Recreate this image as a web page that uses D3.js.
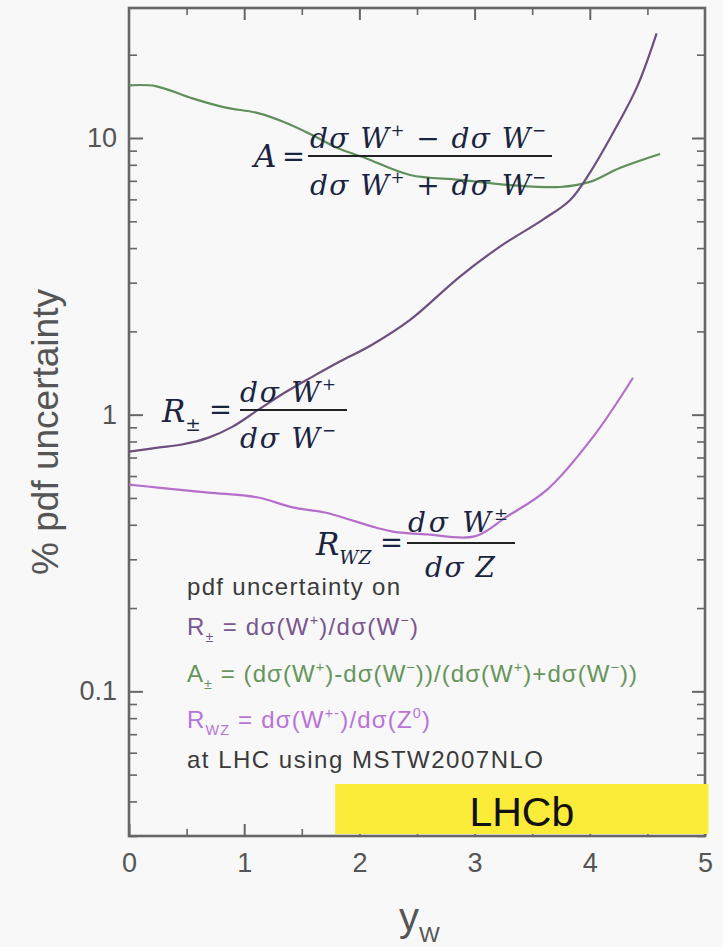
<!DOCTYPE html>
<html>
<head>
<meta charset="utf-8">
<script src="https://cdn.jsdelivr.net/npm/d3@7"></script>
<style>
  html, body { margin: 0; padding: 0; background: #f8f8f8; }
  svg { display: block; }
</style>
</head>
<body>
<div id="chart"></div>
<script>
// % pdf uncertainty vs W rapidity
var ywAsym = [0, 0.23, 0.55, 0.83, 1.12, 1.35, 1.59, 1.81, 2.05, 2.44, 2.87, 3.31, 3.74, 4.0, 4.26, 4.61];
var pdfAsym = [15.5, 15.4, 13.9, 12.9, 12.3, 11.4, 10.25, 9.2, 8.47, 7.35, 7.06, 6.76, 6.65, 6.94, 7.79, 8.75];

var ywRpm = [0, 0.25, 0.46, 0.69, 0.90, 1.12, 1.35, 1.59, 1.81, 2.11, 2.44, 2.87, 3.22, 3.59, 3.83, 4.0, 4.2, 4.41, 4.58];
var pdfRpm = [0.735, 0.76, 0.78, 0.826, 0.905, 1.04, 1.20, 1.37, 1.54, 1.79, 2.20, 3.15, 4.05, 5.06, 5.97, 7.48, 10.4, 15.3, 23.9];

var ywRwz = [0, 0.25, 0.69, 1.12, 1.42, 1.70, 2.14, 2.29, 2.59, 3.0, 3.28, 3.63, 4.03, 4.375];
var pdfRwz = [0.559, 0.545, 0.523, 0.502, 0.462, 0.443, 0.391, 0.378, 0.369, 0.363, 0.428, 0.536, 0.833, 1.36];

var xMajor = [0, 1, 2, 3, 4, 5];
var xMinor = [0.5, 1.5, 2.5, 3.5, 4.5];
var yMajor = [0.1, 1, 10];
var yMinor = [0.03, 0.04, 0.05, 0.06, 0.07, 0.08, 0.09,
              0.2, 0.3, 0.4, 0.5, 0.6, 0.7, 0.8, 0.9,
              2, 3, 4, 5, 6, 7, 8, 9, 20];
var lhcbBand = [1.79, 5.03];

var width = 723, height = 947;
var plotL = 129, plotR = 705, plotT = 8, plotB = 836;

var svg = d3.select("#chart").append("svg")
  .attr("width", width)
  .attr("height", height)
  .style("background", "#f8f8f8");

var x = d3.scaleLinear().domain([0, 5]).range([plotL, plotR]);
var y = d3.scaleLog().domain([0.03, 29.5]).range([plotB, plotT]);

var axisColor = "#666";
var labelColor = "#555";
var sans = "'Liberation Sans', Arial, sans-serif";

function styleAxis(g, w) {
  g.select(".domain").remove();
  g.selectAll(".tick line").attr("stroke", axisColor).attr("stroke-width", w);
  g.selectAll(".tick text")
    .attr("fill", labelColor)
    .style("font-family", sans)
    .style("font-size", "27px");
}

// ticks, all pointing inward
svg.append("g").attr("transform", "translate(" + plotL + ",0)")
  .call(d3.axisLeft(y).tickValues(yMinor).tickSize(-8).tickFormat(""))
  .call(styleAxis, 1.6);
svg.append("g").attr("transform", "translate(" + plotL + ",0)")
  .call(d3.axisLeft(y).tickValues(yMajor).tickSize(-14).tickPadding(12).tickFormat(d3.format("~g")))
  .call(styleAxis, 2);
svg.append("g").attr("transform", "translate(" + plotR + ",0)")
  .call(d3.axisRight(y).tickValues(yMinor).tickSize(-8).tickFormat(""))
  .call(styleAxis, 1.6);
svg.append("g").attr("transform", "translate(" + plotR + ",0)")
  .call(d3.axisRight(y).tickValues(yMajor).tickSize(-13).tickFormat(""))
  .call(styleAxis, 2);
svg.append("g").attr("transform", "translate(0," + plotB + ")")
  .call(d3.axisBottom(x).tickValues(xMinor).tickSize(-7).tickFormat(""))
  .call(styleAxis, 1.6);
svg.append("g").attr("transform", "translate(0," + plotB + ")")
  .call(d3.axisBottom(x).tickValues(xMajor).tickSize(-12).tickPadding(17).tickFormat(d3.format("d")))
  .call(styleAxis, 2);
svg.append("g").attr("transform", "translate(0," + plotT + ")")
  .call(d3.axisTop(x).tickValues(xMinor).tickSize(-7).tickFormat(""))
  .call(styleAxis, 1.6);
svg.append("g").attr("transform", "translate(0," + plotT + ")")
  .call(d3.axisTop(x).tickValues(xMajor.slice(1, 5)).tickSize(-12).tickFormat(""))
  .call(styleAxis, 2);

svg.append("rect")
  .attr("x", plotL).attr("y", plotT)
  .attr("width", plotR - plotL).attr("height", plotB - plotT)
  .attr("fill", "none")
  .attr("stroke", axisColor)
  .attr("stroke-width", 2.6);

// LHCb acceptance box
svg.append("rect")
  .attr("x", x(lhcbBand[0]))
  .attr("y", plotB - 52)
  .attr("width", x(lhcbBand[1]) - x(lhcbBand[0]))
  .attr("height", 50)
  .attr("fill", "#fcec3a");
svg.append("text")
  .attr("x", (x(lhcbBand[0]) + x(lhcbBand[1])) / 2)
  .attr("y", plotB - 10)
  .attr("text-anchor", "middle")
  .style("font-family", sans)
  .style("font-size", "41px")
  .attr("fill", "#111")
  .text("LHCb");

// curves
var line = d3.line()
  .x(function (d) { return x(d[0]); })
  .y(function (d) { return y(d[1]); })
  .curve(d3.curveCatmullRom.alpha(0.5));

var series = [
  { xs: ywAsym, ys: pdfAsym, color: "#5f8f5a" },
  { xs: ywRpm, ys: pdfRpm, color: "#6c4f7f" },
  { xs: ywRwz, ys: pdfRwz, color: "#b56fcb" }
];
series.forEach(function (s) {
  svg.append("path")
    .datum(d3.zip(s.xs, s.ys))
    .attr("fill", "none")
    .attr("stroke", s.color)
    .attr("stroke-width", 2.2)
    .attr("d", line);
});

// text with sub/superscripts
function richText(parent, px, py, parts, o) {
  var t = parent.append("text")
    .attr("x", px).attr("y", py)
    .attr("fill", o.color)
    .style("font-family", o.family)
    .style("font-style", o.italic ? "italic" : "normal")
    .style("font-size", o.size + "px");
  var shift = 0;
  parts.forEach(function (p) {
    var target = p.sup ? -0.42 * o.size : (p.sub ? 0.3 * o.size : 0);
    t.append("tspan")
      .attr("dy", target - shift)
      .style("font-size", (p.sup || p.sub ? o.size * 0.6 : o.size) + "px")
      .style("font-style", p.up ? "normal" : null)
      .text(p.t);
    shift = target;
  });
  if (o.width) t.attr("textLength", o.width).attr("lengthAdjust", "spacing");
  return t;
}

var mathColor = "#1a2440";
var serif = "'DejaVu Serif', 'Liberation Serif', serif";
var mathOpt = { color: mathColor, family: serif, italic: true, size: 28 };

function eq(px, cy) {
  svg.append("text")
    .attr("x", px).attr("y", cy + 9)
    .attr("fill", mathColor)
    .style("font-family", serif)
    .style("font-size", "30px")
    .attr("textLength", 23)
    .attr("lengthAdjust", "spacingAndGlyphs")
    .text("=");
}
function bar(x1, x2, by) {
  svg.append("line")
    .attr("x1", x1).attr("x2", x2)
    .attr("y1", by).attr("y2", by)
    .attr("stroke", "#222")
    .attr("stroke-width", 2);
}

// A = (dσW+ - dσW-)/(dσW+ + dσW-)
richText(svg, 254, 167, [{ t: "A" }], Object.assign({}, mathOpt, { size: 31 }));
eq(282, 157);
bar(308, 552, 156);
richText(svg, 310, 148, [{ t: "dσ W" }, { t: "+", sup: true, up: true }, { t: " − dσ W" }, { t: "−", sup: true, up: true }],
  Object.assign({}, mathOpt, { width: 236 }));
richText(svg, 310, 195, [{ t: "dσ W" }, { t: "+", sup: true, up: true }, { t: " + dσ W" }, { t: "−", sup: true, up: true }],
  Object.assign({}, mathOpt, { width: 236 }));

// R± = dσW+/dσW-
richText(svg, 162, 422, [{ t: "R" }, { t: "±", sub: true, up: true }], Object.assign({}, mathOpt, { size: 31 }));
eq(209, 410);
bar(240, 347, 410);
richText(svg, 240, 402, [{ t: "dσ W" }, { t: "+", sup: true, up: true }], Object.assign({}, mathOpt, { width: 96 }));
richText(svg, 240, 448, [{ t: "dσ W" }, { t: "−", sup: true, up: true }], Object.assign({}, mathOpt, { width: 96 }));

// Rwz = dσW±/dσZ
richText(svg, 316, 555, [{ t: "R" }, { t: "WZ", sub: true }], Object.assign({}, mathOpt, { size: 31 }));
eq(380, 543);
bar(407, 515, 543);
richText(svg, 408, 532, [{ t: "dσ W" }, { t: "±", sup: true, up: true }], Object.assign({}, mathOpt, { width: 100 }));
richText(svg, 425, 577, [{ t: "dσ Z" }], Object.assign({}, mathOpt, { width: 70 }));

// legend block
var leg = svg.append("g");
richText(leg, 187, 595, [{ t: "pdf uncertainty on" }],
  { color: "#3a3a3a", family: sans, size: 24, width: 213 });
richText(leg, 187, 635, [{ t: "R" }, { t: "±", sub: true }, { t: " = dσ(W" }, { t: "+", sup: true }, { t: ")/dσ(W" }, { t: "−", sup: true }, { t: ")" }],
  { color: "#7a5690", family: sans, size: 24, width: 231 });
richText(leg, 187, 682, [{ t: "A" }, { t: "±", sub: true }, { t: " = (dσ(W" }, { t: "+", sup: true }, { t: ")-dσ(W" }, { t: "−", sup: true },
  { t: "))/(dσ(W" }, { t: "+", sup: true }, { t: ")+dσ(W" }, { t: "−", sup: true }, { t: "))" }],
  { color: "#66955c", family: sans, size: 24, width: 450 });
richText(leg, 187, 728, [{ t: "R" }, { t: "WZ", sub: true }, { t: " = dσ(W" }, { t: "+-", sup: true }, { t: ")/dσ(Z" }, { t: "0", sup: true }, { t: ")" }],
  { color: "#b874d6", family: sans, size: 24, width: 243 });
richText(leg, 187, 768, [{ t: "at LHC using MSTW2007NLO" }],
  { color: "#3a3a3a", family: sans, size: 24, width: 356 });

// axis titles
svg.append("text")
  .attr("transform", "translate(58,432) rotate(-90)")
  .attr("text-anchor", "middle")
  .attr("fill", labelColor)
  .style("font-family", sans)
  .style("font-size", "37px")
  .text("% pdf uncertainty");

var xt = svg.append("text")
  .attr("x", 399).attr("y", 931)
  .attr("fill", labelColor)
  .style("font-family", sans)
  .style("font-size", "40px");
xt.append("tspan").text("y");
xt.append("tspan").attr("dy", 11).style("font-size", "22px").text("W");
</script>
</body>
</html>
